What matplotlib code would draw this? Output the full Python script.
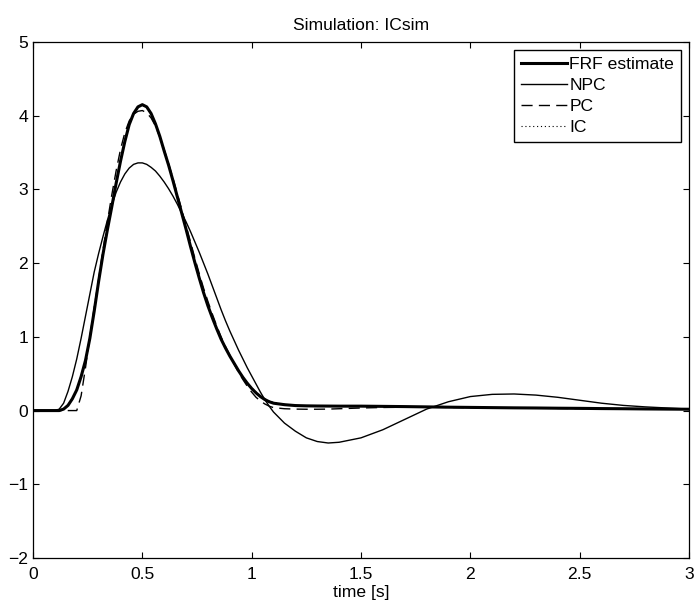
import matplotlib
matplotlib.use("Agg")
import matplotlib.pyplot as plt

plt.rcParams['font.family'] = ['Liberation Sans', 'DejaVu Sans']
plt.rcParams['font.size'] = 12.6

# time axis [s]
t = [0, 0.05, 0.10,
     0.12, 0.14, 0.16, 0.18, 0.20,
     0.22, 0.24, 0.26, 0.28, 0.30,
     0.32, 0.34, 0.36, 0.38, 0.40,
     0.42, 0.44, 0.46, 0.48, 0.50,
     0.52, 0.54, 0.56, 0.58, 0.60,
     0.62, 0.64, 0.66, 0.68, 0.70,
     0.72, 0.74, 0.76, 0.78, 0.80,
     0.82, 0.84, 0.86, 0.88, 0.90,
     0.92, 0.94, 0.96, 0.98, 1.00,
     1.02, 1.04, 1.06, 1.08, 1.10,
     1.15, 1.20, 1.25, 1.30, 1.35, 1.40,
     1.50, 1.60, 1.70, 1.80, 1.90, 2.00,
     2.10, 2.20, 2.30, 2.40, 2.50, 2.60,
     2.70, 2.80, 2.90, 3.00]

frf = [0, 0, 0,
       0.00, 0.02, 0.07, 0.16, 0.28,
       0.46, 0.68, 0.98, 1.35, 1.75,
       2.12, 2.45, 2.76, 3.08, 3.38,
       3.65, 3.88, 4.03, 4.12, 4.15,
       4.12, 4.03, 3.89, 3.72, 3.52,
       3.33, 3.12, 2.90, 2.68, 2.46,
       2.23, 2.01, 1.80, 1.60, 1.42,
       1.26, 1.11, 0.97, 0.85, 0.74,
       0.64, 0.54, 0.45, 0.37, 0.30,
       0.24, 0.19, 0.15, 0.12, 0.10,
       0.080, 0.068, 0.064, 0.062, 0.061, 0.060,
       0.060, 0.057, 0.054, 0.050, 0.046, 0.043,
       0.040, 0.037, 0.035, 0.032, 0.030, 0.027,
       0.025, 0.022, 0.020, 0.018]

npc = [0, 0, 0,
       0.02, 0.10, 0.26, 0.46, 0.70,
       0.98, 1.28, 1.58, 1.88, 2.13,
       2.36, 2.58, 2.78, 2.96, 3.10,
       3.21, 3.29, 3.34, 3.36, 3.36,
       3.34, 3.30, 3.25, 3.18, 3.10,
       3.01, 2.91, 2.80, 2.68, 2.56,
       2.43, 2.29, 2.15, 2.00, 1.85,
       1.69, 1.53, 1.37, 1.22, 1.08,
       0.95, 0.82, 0.70, 0.58, 0.47,
       0.36, 0.25, 0.15, 0.06, -0.02,
       -0.17, -0.28, -0.37, -0.42, -0.44, -0.43,
       -0.37, -0.26, -0.12, 0.02, 0.12, 0.19,
       0.22, 0.225, 0.21, 0.18, 0.14, 0.10,
       0.07, 0.05, 0.035, 0.02]

pc = [0, 0, 0,
      0, 0, 0, 0, 0,
      0.20, 0.58, 1.00, 1.40, 1.78,
      2.18, 2.56, 2.92, 3.25, 3.54,
      3.77, 3.93, 4.02, 4.06, 4.07,
      4.04, 3.97, 3.86, 3.71, 3.54,
      3.35, 3.15, 2.94, 2.73, 2.51,
      2.29, 2.07, 1.86, 1.66, 1.48,
      1.31, 1.15, 1.00, 0.87, 0.75,
      0.63, 0.52, 0.42, 0.33, 0.25,
      0.18, 0.13, 0.09, 0.06, 0.04,
      0.025, 0.020, 0.018, 0.018, 0.020, 0.025,
      0.035, 0.042, 0.045, 0.045, 0.043, 0.040,
      0.037, 0.035, 0.032, 0.030, 0.027, 0.025,
      0.023, 0.021, 0.019, 0.017]

ic = [0, 0, 0,
      0.00, 0.02, 0.07, 0.16, 0.29,
      0.47, 0.69, 0.99, 1.36, 1.76,
      2.13, 2.46, 2.77, 3.09, 3.39,
      3.66, 3.88, 4.03, 4.11, 4.14,
      4.11, 4.02, 3.89, 3.72, 3.53,
      3.33, 3.12, 2.90, 2.68, 2.46,
      2.23, 2.01, 1.81, 1.61, 1.43,
      1.27, 1.12, 0.98, 0.86, 0.75,
      0.65, 0.55, 0.46, 0.38, 0.31,
      0.25, 0.20, 0.16, 0.13, 0.11,
      0.085, 0.070, 0.064, 0.062, 0.061, 0.060,
      0.059, 0.056, 0.053, 0.049, 0.045, 0.042,
      0.039, 0.036, 0.034, 0.031, 0.029, 0.026,
      0.024, 0.022, 0.020, 0.018]

fig = plt.figure(figsize=(6.99, 6.05), dpi=100)
ax = fig.add_axes([33/699, 47/605, 656/699, 516/605])

ax.plot(t, frf, color='k', lw=2.2, label='FRF estimate')
ax.plot(t, npc, color='k', lw=1.0, label='NPC')
ax.plot(t, pc, color='k', lw=1.0, linestyle=(0, (8, 4.5)), label='PC')
ax.plot(t, ic, color='k', lw=0.8, linestyle=(0, (1, 2.5)), label='IC')

ax.set_xlim(0, 3)
ax.set_ylim(-2, 5)
ax.set_xticks([0, 0.5, 1, 1.5, 2, 2.5, 3])
ax.set_xticklabels(['0', '0.5', '1', '1.5', '2', '2.5', '3'])
ax.set_yticks([-2, -1, 0, 1, 2, 3, 4, 5])
ax.tick_params(direction='in', length=4.5, width=0.8, top=True, right=True)
ax.tick_params(axis='x', pad=6.5)
ax.tick_params(axis='y', pad=3.5)
for s in ax.spines.values():
    s.set_linewidth(0.9)

ax.set_title('Simulation: ICsim', fontsize=12.6, pad=9)
ax.set_xlabel('time [s]', labelpad=2.5)

leg = ax.legend(loc='upper right', fancybox=False, edgecolor='k', framealpha=1,
                handlelength=2.6, handletextpad=0.15, labelspacing=0.32,
                borderaxespad=0.45, borderpad=0.4)
leg.get_frame().set_linewidth(1.0)

fig.savefig('out.png', dpi=100)
